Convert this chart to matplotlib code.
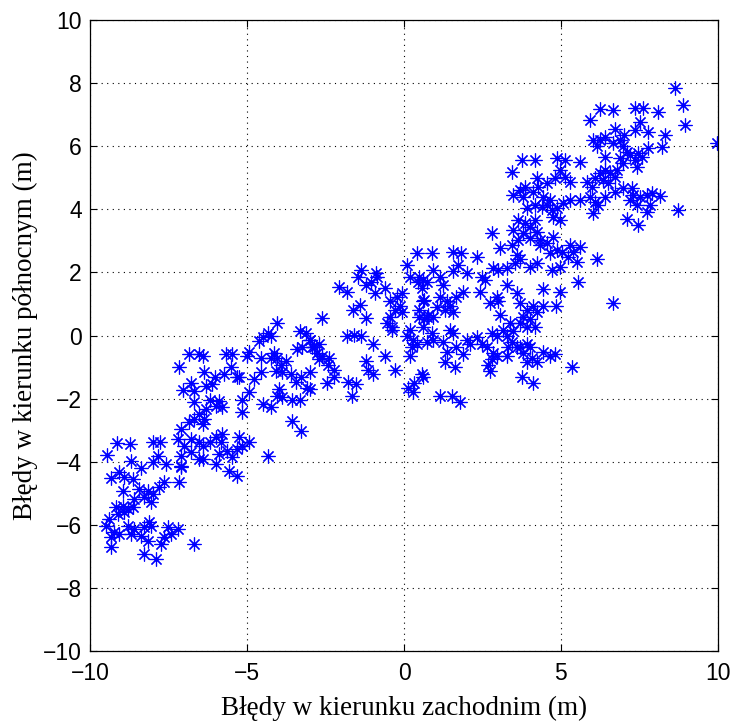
import numpy as np
import matplotlib
matplotlib.use('Agg')
import matplotlib.pyplot as plt

# errors, in metres (east, north)
sw_east = [-9.14, -8.72, -7.99, -7.77, -9.46, -8.69, -7.83, -7.58, -7.99, -7.10, -8.37, -9.07, -9.33, -8.93, -8.63,
           -7.64, -7.16, -8.95, -8.44, -8.15, -7.99, -7.80, -8.60, -8.28, -8.05, -9.17, -8.95, -8.79, -8.63, -9.11,
           -8.91, -9.39, -9.49, -8.79, -8.60, -8.28, -8.12, -8.05, -7.51, -7.19, -7.42, -7.64, -9.23, -9.33, -9.10,
           -8.69, -8.37, -8.15, -9.33, -7.74, -8.28, -7.90, -6.68,
           -6.85, -6.68, -7.10, -6.78, -7.19, -7.00, -6.55, -6.78, -7.10, -6.55, -7.10,
           -6.84, -7.16, -6.52, -7.03, -6.78, -6.68, -6.68,
           -4.04, -4.35, -4.23, -4.51, -4.61, -3.33, -3.11, -3.01, -3.24, -3.40, -2.86, -4.93, -4.99, -5.66, -5.47,
           -6.42, -4.13, -4.04, -4.23, -3.75, -3.91, -4.55, -5.50, -5.31, -5.25, -5.73, -4.55, -4.77, -4.07, -3.88,
           -3.59, -3.27, -3.08, -3.43, -6.36, -6.04, -6.11, -6.30, -3.97, -4.04, -3.88, -3.56, -3.33, -4.93, -5.18,
           -4.51, -4.23, -6.20, -5.89, -5.79, -5.98, -6.30, -6.52, -6.36, -6.42, -5.18, -3.56, -3.27, -5.79, -5.98,
           -5.82, -6.20, -6.42, -5.25, -4.93, -5.15, -5.34, -5.63, -5.89, -5.47, -4.35, -6.42, -5.98, -5.57, -5.34]
sw_north = [-3.42, -3.45, -3.39, -3.39, -3.80, -3.99, -3.83, -4.08, -4.02, -4.18, -4.21, -4.34, -4.53, -4.49, -4.56,
            -4.65, -4.65, -4.94, -4.87, -4.94, -5.03, -4.81, -5.19, -5.13, -5.28, -5.44, -5.41, -5.51, -5.44, -5.66,
            -5.60, -5.82, -6.04, -6.04, -6.14, -6.08, -5.92, -6.04, -6.08, -6.14, -6.30, -6.39, -6.23, -6.39, -6.30,
            -6.30, -6.36, -6.52, -6.71, -6.61, -6.93, -7.09, -6.61,
            -2.75, -2.66, -2.97, -3.29, -3.29, -3.51, -3.39, -3.70, -3.83, -3.92, -4.15,
            -0.60, -1.01, -0.60, -1.74, -1.49, -1.77, -2.12,
            0.41, 0.09, -0.03, -0.06, -0.19, 0.13, 0.09, -0.13, -0.35, -0.44, -0.38, -0.51, -0.66, -0.60, -0.60,
            -0.66, -0.54, -0.70, -0.70, -0.82, -0.92, -0.70, -1.01, -1.30, -1.33, -1.23, -1.17, -1.39, -1.14, -1.17,
            -1.23, -1.33, -1.65, -1.46, -1.17, -1.33, -1.55, -1.61, -1.71, -1.93, -1.96, -2.03, -2.03, -1.80, -2.03,
            -2.18, -2.28, -2.03, -2.09, -2.28, -2.25, -2.34, -2.50, -2.66, -2.82, -2.41, -2.72, -3.04, -3.13, -3.23,
            -3.39, -3.39, -3.51, -3.23, -3.39, -3.51, -3.61, -3.67, -3.77, -3.86, -3.83, -3.92, -4.08, -4.30, -4.46]

mid_east = [0.40, 0.08, -1.36, -1.48, -0.88, -0.85, -1.04, -0.62, -0.94, -1.20, -2.06, -1.83, -1.42, -1.64, -1.20,
            -2.60, -0.46, -0.24, -0.08, -0.14, -0.30, -0.05, -0.46, -0.40, -0.37, -0.53, 0.18, 0.43, 0.59, 0.56,
            0.65, 0.49, 0.65, 0.75, 0.59, 0.18, 0.08, 0.27, 0.40, 0.18, 0.24, -1.83, -1.58, -1.36, -1.00,
            -3.01, -2.92, -2.70, -2.79, -2.60, -2.38, -2.70, -2.44, -2.22, -3.01, -2.47, -2.22, -3.01, -1.80, -1.52,
            -1.67, -1.20, -1.16, -1.00, -0.62, -0.30, 0.11, 0.33, 0.56, 0.27,
            2.79, 0.88, 1.55, 1.83, 2.31, 3.05, 3.43, 3.59, 3.68, 3.52, 3.27, 2.98, 2.82, 4.00, 4.23,
            1.71, 1.55, 1.99, 0.91, 1.13, 1.23, 0.72, 0.49, 2.47, 2.57, 2.41, 1.87, 1.67, 3.27, 3.59,
            2.95, 2.98, 2.73, 1.13, 1.36, 1.45, 1.55, 1.29, 1.04, 0.59, 0.49, 0.72, 0.91, 3.68, 3.91,
            4.10, 4.23, 3.78, 4.00, 3.68, 3.91, 4.16, 3.05, 3.37, 3.14, 3.27, 2.95, 2.79, 3.46, 3.43,
            3.59, 1.45, 1.55, 0.88, 0.91, 0.72, 1.23, 1.67, 1.99, 2.09, 2.31, 2.47, 2.63, 2.82, 2.79,
            2.95, 2.66, 2.73, 3.27, 3.30, 3.68, 3.78, 3.91, 4.00, 4.07, 4.23, 3.91, 3.75, 4.10, 1.36,
            1.87, 1.61, 1.29, 0.59, 1.13, 1.52, 1.77]
mid_north = [2.63, 2.25, 2.09, 1.84, 1.99, 1.84, 1.71, 1.52, 1.36, 1.61, 1.55, 1.39, 0.98, 0.82, 0.57,
             0.57, 1.08, 1.23, 1.36, 0.92, 0.82, 0.73, 0.60, 0.28, 0.19, 0.41, 1.84, 1.68, 1.77, 1.52,
             1.14, 0.60, 0.51, 0.66, 0.28, 0.19, -0.03, -0.13, -0.28, -0.66, -0.35, -0.03, 0.03, -0.03, -0.28,
             -0.13, -0.35, -0.28, -0.54, -0.66, -0.70, -0.76, -0.92, -1.08, -1.17, -1.49, -1.33, -1.71, -1.46, -1.55,
             -1.93, -0.82, -1.08, -1.23, -0.66, -1.08, -1.65, -1.49, -1.23, -1.80,
             3.26, 2.63, 2.66, 2.63, 2.50, 2.78, 2.88, 2.56, 2.41, 2.31, 2.15, 2.09, 2.15, 2.18, 2.31,
             2.25, 2.03, 1.99, 2.09, 1.84, 1.61, 1.68, 1.84, 1.84, 1.77, 1.39, 1.39, 1.23, 1.61, 1.36,
             1.23, 1.08, 1.04, 1.23, 1.08, 0.92, 0.73, 0.82, 0.89, 1.08, 0.82, 0.60, 0.60, 1.04, 0.82,
             0.92, 0.73, 0.60, 0.51, 0.41, 0.28, 0.28, 0.66, 0.41, 0.19, -0.03, -0.03, 0.09, 0.13, -0.22,
             -0.35, 0.19, 0.09, 0.09, -0.13, -0.22, -0.22, -0.35, -0.13, -0.28, -0.06, -0.28, -0.35, -0.54, -0.76,
             -0.66, -0.92, -1.14, -0.66, -0.35, -0.35, -0.54, -0.28, -0.38, -0.70, -0.85, -0.85, -1.30, -1.49, -0.51,
             -0.60, -1.01, -0.85, -1.30, -1.93, -1.93, -2.12]

ne_east = [3.43, 3.75, 4.16, 4.86, 5.12, 5.60, 4.96, 5.12, 5.28, 4.80, 4.55, 4.23, 4.26, 3.85, 3.68,
           3.46, 3.78, 4.10, 4.42, 4.64, 4.71, 5.06, 5.28, 5.82, 5.60, 3.91, 4.16, 4.39, 4.55, 4.86,
           4.74, 4.96, 3.62, 3.85, 4.00, 4.16, 4.23, 3.46, 3.78, 4.00, 3.62, 4.32, 4.32,
           4.55, 4.74, 4.86, 4.64, 5.02, 5.28, 5.38, 5.60, 5.22, 5.50, 6.14, 4.71, 4.96, 4.42, 4.96, 5.54,
           8.63, 8.88, 8.95, 6.24, 6.65, 7.35, 7.61, 8.09, 5.92, 7.51, 6.71, 7.35, 7.77, 8.31, 7.00,
           9.97, 6.01, 6.24, 6.40, 6.14, 6.65, 6.88, 6.97, 7.10, 7.77, 8.21, 7.45, 6.40, 6.88, 7.19,
           7.35, 7.57, 7.41, 6.97, 6.40, 6.24, 6.56, 6.78, 6.71, 6.33, 6.49, 6.08, 5.98, 5.92, 6.71,
           6.97, 7.26, 7.29, 7.51, 7.73, 7.89, 8.15, 7.19, 7.41, 6.08, 6.40, 6.17, 6.01, 7.10, 7.45,
           7.73, 7.83, 8.72,
           6.65, 5.34, 4.83, 4.42, 4.42, 4.64, 4.80]
ne_north = [5.19, 5.57, 5.57, 5.63, 5.57, 5.51, 5.25, 5.03, 4.87, 5.00, 4.84, 5.00, 4.72, 4.72, 4.62,
            4.46, 4.40, 4.56, 4.40, 4.30, 3.99, 4.21, 4.30, 4.87, 4.30, 4.05, 4.15, 4.08, 4.15, 4.05,
            3.77, 3.67, 3.67, 3.58, 3.45, 3.67, 3.29, 3.35, 3.26, 3.10, 3.04, 3.04, 2.88,
            2.94, 3.13, 2.72, 2.63, 2.66, 2.88, 2.66, 2.82, 2.50, 2.34, 2.41, 2.09, 2.18, 1.46, 1.39, 1.68,
            7.85, 7.31, 6.68, 7.18, 7.15, 7.22, 7.22, 7.09, 6.84, 6.77, 6.55, 6.52, 6.46, 6.36, 6.36,
            6.11, 6.20, 6.20, 6.30, 6.00, 6.11, 6.20, 6.00, 5.82, 5.95, 5.98, 5.79, 5.66, 5.63, 5.73,
            5.57, 5.66, 5.35, 5.47, 5.25, 5.16, 5.16, 5.25, 5.03, 4.94, 4.84, 5.00, 4.72, 4.40, 4.56,
            4.68, 4.68, 4.46, 4.40, 4.46, 4.53, 4.43, 4.30, 4.15, 4.24, 4.40, 4.15, 3.89, 3.70, 3.51,
            3.92, 4.15, 3.99,
            1.04, -1.01, 0.92, 0.92, -0.51, -0.66, -0.60]

east = np.array(sw_east + mid_east + ne_east)
north = np.array(sw_north + mid_north + ne_north)

ticks = [-10, -5, 0, 5, 10]
yticks = [-10, -8, -6, -4, -2, 0, 2, 4, 6, 8, 10]

fig = plt.figure(figsize=(7.34, 7.24), dpi=100)
ax = fig.add_axes([0.123, 0.1008, 0.855, 0.8716])

ax.plot(east, north, linestyle='none', marker=(8, 2, 0), markersize=10,
        markeredgewidth=0.85, color='#0000ff')

ax.set_xlim(-10, 10)
ax.set_ylim(-10, 10)
ax.set_xticks(ticks)
ax.set_yticks(yticks)
ax.set_xticklabels(['\u221210', '\u22125', '0', '5', '10'])
ax.set_yticklabels(['\u221210', '\u22128', '\u22126', '\u22124', '\u22122', '0', '2', '4', '6', '8', '10'])
ax.grid(True, color='black', linestyle=(0, (1, 4)), linewidth=0.8)
ax.tick_params(direction='in', length=5, top=True, right=True, labelsize=16.5, width=0.8)
ax.tick_params(axis='x', pad=8)
ax.tick_params(axis='y', pad=6)
for lab in ax.get_xticklabels() + ax.get_yticklabels():
    lab.set_family('Liberation Sans')
for s in ax.spines.values():
    s.set_linewidth(0.9)

ax.set_xlabel('Błędy w kierunku zachodnim (m)', family='Liberation Serif', fontsize=19.5, labelpad=8)
ax.set_ylabel('Błędy w kierunku północnym (m)', family='Liberation Serif', fontsize=19.5, labelpad=4)

fig.savefig('out.png', dpi=100)
